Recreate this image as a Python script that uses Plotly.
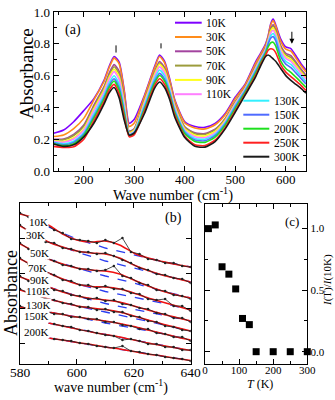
import plotly.graph_objects as go

FONT = "Liberation Serif"
W, H = 335, 400

# ---- panel (a): absorbance spectra -------------------------------------
WAVENUMBER_A = [140, 160, 180, 200, 220, 240, 250, 260, 270, 280, 290, 300, 320, 340,
                350, 360, 370, 380, 400, 420, 440, 460, 480, 500, 520, 540, 550, 560,
                565, 570, 575, 580, 590, 600, 610, 620, 630, 640]

ABS_10K = [0.237, 0.258, 0.310, 0.380, 0.455, 0.570, 0.656, 0.720, 0.685, 0.510, 0.300, 0.325,
           0.475, 0.655, 0.730, 0.690, 0.580, 0.450, 0.310, 0.280, 0.275, 0.300, 0.362, 0.465,
           0.550, 0.685, 0.740, 0.800, 0.850, 0.925, 0.955, 0.920, 0.830, 0.780, 0.770, 0.725,
           0.675, 0.635]
ABS_30K = [0.217, 0.227, 0.267, 0.331, 0.447, 0.563, 0.648, 0.710, 0.674, 0.500, 0.280, 0.302,
           0.468, 0.647, 0.720, 0.680, 0.572, 0.443, 0.302, 0.270, 0.265, 0.291, 0.354, 0.455,
           0.543, 0.675, 0.732, 0.792, 0.845, 0.917, 0.945, 0.911, 0.815, 0.766, 0.754, 0.711,
           0.663, 0.623]
ABS_50K = [0.200, 0.201, 0.230, 0.289, 0.415, 0.531, 0.613, 0.669, 0.627, 0.461, 0.250, 0.268,
           0.447, 0.623, 0.689, 0.650, 0.549, 0.424, 0.278, 0.240, 0.235, 0.263, 0.331, 0.437,
           0.529, 0.657, 0.716, 0.776, 0.833, 0.896, 0.920, 0.888, 0.789, 0.740, 0.726, 0.685,
           0.641, 0.603]
ABS_70K = [0.197, 0.196, 0.223, 0.281, 0.404, 0.521, 0.601, 0.656, 0.611, 0.447, 0.245, 0.263,
           0.441, 0.615, 0.679, 0.641, 0.541, 0.417, 0.274, 0.235, 0.230, 0.259, 0.327, 0.432,
           0.526, 0.652, 0.712, 0.772, 0.828, 0.888, 0.910, 0.879, 0.778, 0.730, 0.714, 0.675,
           0.632, 0.594]
ABS_90K = [0.190, 0.186, 0.209, 0.265, 0.392, 0.509, 0.588, 0.640, 0.593, 0.432, 0.240, 0.257,
           0.435, 0.608, 0.671, 0.632, 0.535, 0.412, 0.266, 0.225, 0.220, 0.249, 0.319, 0.427,
           0.522, 0.647, 0.708, 0.768, 0.824, 0.880, 0.900, 0.869, 0.767, 0.719, 0.702, 0.664,
           0.622, 0.586]
ABS_110K = [0.187, 0.181, 0.201, 0.256, 0.379, 0.497, 0.575, 0.625, 0.575, 0.417, 0.235, 0.251,
            0.424, 0.596, 0.655, 0.617, 0.523, 0.402, 0.258, 0.215, 0.210, 0.240, 0.312, 0.422,
            0.519, 0.642, 0.704, 0.764, 0.816, 0.868, 0.885, 0.856, 0.756, 0.708, 0.690, 0.653,
            0.613, 0.577]
ABS_130K = [0.180, 0.171, 0.187, 0.240, 0.359, 0.477, 0.553, 0.599, 0.546, 0.392, 0.230, 0.246,
            0.411, 0.579, 0.635, 0.598, 0.507, 0.388, 0.250, 0.205, 0.200, 0.231, 0.304, 0.413,
            0.512, 0.633, 0.696, 0.756, 0.807, 0.851, 0.865, 0.837, 0.738, 0.690, 0.670, 0.635,
            0.598, 0.563]
ABS_150K = [0.177, 0.165, 0.180, 0.232, 0.343, 0.462, 0.537, 0.580, 0.523, 0.373, 0.225, 0.240,
            0.397, 0.563, 0.614, 0.578, 0.492, 0.375, 0.242, 0.195, 0.190, 0.222, 0.296, 0.403,
            0.505, 0.623, 0.688, 0.748, 0.797, 0.835, 0.845, 0.819, 0.719, 0.672, 0.650, 0.617,
            0.582, 0.548]
ABS_200K = [0.173, 0.160, 0.172, 0.223, 0.333, 0.452, 0.525, 0.566, 0.507, 0.360, 0.220, 0.234,
            0.388, 0.552, 0.601, 0.565, 0.481, 0.366, 0.234, 0.185, 0.180, 0.213, 0.288, 0.394,
            0.498, 0.614, 0.680, 0.740, 0.780, 0.806, 0.810, 0.787, 0.691, 0.645, 0.620, 0.590,
            0.559, 0.526]
ABS_250K = [0.155, 0.148, 0.152, 0.200, 0.316, 0.435, 0.507, 0.545, 0.483, 0.339, 0.215, 0.229,
            0.374, 0.536, 0.580, 0.545, 0.466, 0.353, 0.218, 0.165, 0.160, 0.194, 0.273, 0.380,
            0.487, 0.600, 0.668, 0.728, 0.759, 0.769, 0.765, 0.745, 0.667, 0.622, 0.594, 0.567,
            0.539, 0.507]
ABS_300K = [0.170, 0.155, 0.165, 0.215, 0.300, 0.420, 0.490, 0.525, 0.460, 0.320, 0.225, 0.240,
            0.360, 0.520, 0.560, 0.525, 0.450, 0.340, 0.210, 0.155, 0.150, 0.185, 0.265, 0.370,
            0.480, 0.590, 0.660, 0.720, 0.730, 0.720, 0.705, 0.690, 0.645, 0.600, 0.570, 0.545,
            0.520, 0.490]

TEMPS_A = ["10K", "30K", "50K", "70K", "90K", "110K", "130K", "150K", "200K", "250K", "300K"]
SPECTRA_A = [ABS_10K, ABS_30K, ABS_50K, ABS_70K, ABS_90K, ABS_110K, ABS_130K, ABS_150K,
             ABS_200K, ABS_250K, ABS_300K]
COLORS_A = ["#7f00ff", "#ff8c1a", "#a3449f", "#9c9c3c", "#ffff1a", "#ff7fff",
            "#33f0ff", "#4f6bff", "#1ee01e", "#ff2020", "#1a1a1a"]

# ---- panel (b): 600 cm-1 region, offset spectra ------------------------
DATA_X_B = [580, 583, 586, 589, 592, 595, 598, 601, 604, 607, 610, 613, 616, 619, 622, 625,
            628, 631, 634, 637, 640]
FIT_X_B = [580, 585, 590, 595, 600, 605, 610, 615, 620, 625, 630, 635, 640]
BASE_X_B = [590, 600, 610, 620, 630, 640]
TEMPS_B = ["10K", "30K", "50K", "70K", "90K", "110K", "130K", "150K", "200K"]

DATA_B = [
    [151, 147, 145, 140, 134, 131, 125, 124, 123, 121, 124, 121, 126, 112, 110, 105, 104, 101, 101, 98, 97],
    [139, 133, 129, 122, 121, 116, 115, 112, 112, 110, 111, 108, 104, 101, 96, 94, 90, 89, 86, 85, 81],
    [121, 115, 112, 106, 103, 99, 98, 95, 95, 93, 94, 98, 88, 86, 81, 79, 74, 73, 69, 68, 65],
    [106, 100, 97, 92, 89, 84, 83, 79, 79, 76, 78, 75, 75, 71, 70, 65, 64, 65, 58, 58, 53],
    [88, 83, 81, 79, 74, 73, 69, 68, 65, 66, 63, 64, 60, 59, 56, 55, 51, 50, 46, 46, 42],
    [75, 71, 69, 65, 64, 61, 60, 57, 57, 54, 55, 52, 52, 48, 47, 43, 42, 38, 37, 34, 33],
    [58, 55, 54, 53, 50, 50, 47, 47, 45, 45, 42, 42, 39, 38, 35, 35, 31, 30, 27, 27, 23],
    [None, None, None, None, 40, 38, 37, 34, 33, 31, 29, 28, 24, 25, 23, 20, 20, 17, 17, 14, 14],
    [None, None, None, None, 25, 24, 23, 21, 20, 18, 17, 16, 18, 13, 12, 10, 9, 7, 6, 5, 3],
]
FIT_B = [
    [150, 146, 139, 130, 124, 122, 123, 119, 111, 106, 102.5, 99.5, 97],
    [138, 130, 122, 117, 113, 111, 110, 106, 99, 93.5, 89, 85.5, 82],
    [120, 112.5, 105, 100, 96, 94, 93, 90, 84, 78, 73, 69, 66],
    [105, 98, 91, 85, 80, 77.5, 77, 75, 71, 66, 62, 58, 54],
    [87, 82, 77, 72, 68, 65.5, 64, 62, 58, 54, 50, 46.5, 43],
    [74, 69.5, 65, 61.5, 58, 56, 54.5, 52, 48, 44, 40, 36.5, 33],
    [57, 54.5, 52, 49.5, 47, 45, 43, 40.5, 37.5, 34, 30.5, 27, 24],
    [None, None, 41, 38, 35, 32, 29.5, 27, 24, 21, 18.5, 16, 13.5],
    [None, None, 26, 24, 21.5, 19.5, 17, 15, 12.5, 10, 8, 5.5, 3.5],
]
BASE_B = [
    [137, 125, 116, 109, 102.5, 97],
    [122, 112, 103, 96, 88.5, 82],
    [105, 96, 88, 81, 73, 66],
    [91, 80, 72.5, 67, 61, 54],
    [77, 68, 60.5, 55, 49, 43],
    [65, 58, 52, 46, 39.5, 33],
    [52, 47, 41, 36, 30.5, 24],
    [41, 35, 29.5, 24, 18.5, 13.5],
    [26, 21.5, 17, 12.5, 8, 3.5],
]

# ---- panel (c): normalised intensity -----------------------------------
T_C = [10, 30, 50, 70, 90, 110, 130, 150, 200, 250, 300]
INTENSITY_C = [1.0, 1.03, 0.69, 0.63, 0.51, 0.27, 0.22, 0.0, 0.0, 0.0, 0.0]


def px(x):
    return x / W


def py(y):
    return 1 - y / H


fig = go.Figure()

for name, values, color in zip(TEMPS_A, SPECTRA_A, COLORS_A):
    fig.add_trace(go.Scatter(
        x=WAVENUMBER_A, y=values, mode="lines", name=name,
        line=dict(color=color, width=1.6, shape="spline", smoothing=0.6),
        xaxis="x", yaxis="y", showlegend=False,
    ))

for data, fit, base in zip(DATA_B, FIT_B, BASE_B):
    fig.add_trace(go.Scatter(
        x=BASE_X_B, y=base, mode="lines",
        line=dict(color="#2a3df0", width=1.3, dash="dash"),
        xaxis="x2", yaxis="y2", showlegend=False,
    ))
    fig.add_trace(go.Scatter(
        x=FIT_X_B, y=fit, mode="lines",
        line=dict(color="#f01010", width=1.5, shape="spline", smoothing=0.8),
        xaxis="x2", yaxis="y2", showlegend=False,
    ))
    fig.add_trace(go.Scatter(
        x=DATA_X_B, y=data, mode="lines+markers",
        line=dict(color="#222222", width=0.8),
        marker=dict(size=2.5, color="#222222"),
        xaxis="x2", yaxis="y2", showlegend=False,
    ))

fig.add_trace(go.Scatter(
    x=T_C, y=INTENSITY_C, mode="markers",
    marker=dict(symbol="square", size=7, color="black"),
    xaxis="x3", yaxis="y3", showlegend=False, cliponaxis=False,
))


def axis(size, **kw):
    base = dict(
        showline=True, linecolor="black", linewidth=1, mirror="ticks",
        ticks="inside", ticklen=5, tickwidth=1, tickcolor="black",
        showgrid=False, zeroline=False, automargin=False,
        tickfont=dict(family=FONT, size=size, color="black"),
    )
    base.update(kw)
    return base


def minor(step):
    return dict(ticks="inside", ticklen=3, dtick=step, tickcolor="black", showgrid=False)


fig.update_layout(
    template="none",
    width=W, height=H, margin=dict(l=0, r=0, t=0, b=0, pad=0),
    paper_bgcolor="white", plot_bgcolor="white",
    font=dict(family=FONT, color="black"),
    xaxis=axis(13, domain=[px(53.5), px(306)], range=[140, 640], tick0=0, dtick=100,
               minor=minor(50), anchor="y", ticklabelstandoff=-4),
    yaxis=axis(13, domain=[py(171), py(12)], range=[0, 1], dtick=0.2, tickformat=".1f",
               minor=minor(0.1), anchor="x"),
    xaxis2=axis(13.5, domain=[px(20), px(190.7)], range=[580, 640], tick0=0, dtick=20,
                minor=minor(10), anchor="y2", ticklabelstandoff=-4),
    yaxis2=axis(12, domain=[py(364), py(203)], range=[0, 161], tick0=21, dtick=35,
                showticklabels=False, anchor="x2"),
    xaxis3=axis(11, domain=[px(205), px(307.3)], range=[0, 300], tick0=0, dtick=100,
                minor=minor(50), anchor="y3", ticklabelstandoff=-4),
    yaxis3=axis(11, domain=[py(364), py(204)], range=[-0.1, 1.2], tick0=0, dtick=0.5,
                tickformat=".1f", minor=minor(0.25), side="right", anchor="x3"),
)

ann = []
shapes = []


def text(x, y, s, size, **kw):
    d = dict(x=px(x), y=py(y), xref="paper", yref="paper", text=s, showarrow=False,
             xanchor="center", yanchor="middle",
             font=dict(family=FONT, size=size, color="black"))
    d.update(kw)
    ann.append(d)


# legend of panel (a), split in two columns
for i, (name, color) in enumerate(zip(TEMPS_A, COLORS_A)):
    if i < 6:
        x0, x1, y = 175, 201.7, 22.7 + 14.3 * i
    else:
        x0, x1, y = 243.3, 269.3, 100.7 + 14.0 * (i - 6)
    shapes.append(dict(type="line", xref="paper", yref="paper", x0=px(x0), x1=px(x1),
                       y0=py(y), y1=py(y), line=dict(color=color, width=2)))
    text(x1 + 2.5, y, name, 11.5, xanchor="left")

# peak markers and arrow in panel (a)
for xm, y0, y1 in [(263.8, 0.745, 0.79), (352.9, 0.771, 0.803)]:
    shapes.append(dict(type="line", xref="x", yref="y", x0=xm, x1=xm, y0=y0, y1=y1,
                       line=dict(color="black", width=1)))
ann.append(dict(x=612, y=0.80, ax=612, ay=0.885, xref="x", yref="y", axref="x", ayref="y",
                text="", showarrow=True, arrowhead=2, arrowsize=1, arrowwidth=1,
                arrowcolor="black"))

# temperature labels in panel (b)
label_pos_b = [(582.9, 142.3), (581.8, 129), (583.2, 111.3), (582.3, 95.7), (583.3, 84),
               (581.8, 73), (581.8, 59), (581.2, 48.5), (581.2, 32.3)]
for name, (lx, ly) in zip(TEMPS_B, label_pos_b):
    ann.append(dict(x=lx, y=ly, xref="x2", yref="y2", text=name, showarrow=False,
                    xanchor="left", yanchor="middle", bgcolor="white", borderpad=0,
                    font=dict(family=FONT, size=11, color="black")))

text(72.5, 30, "(a)", 14)
text(173.5, 218, "(b)", 14)
text(292, 221, "(c)", 13)
text(26, 74, "Absorbance", 19, textangle=-90)
text(11, 293, "Absorbance", 18, textangle=-90)
text(173, 194, "Wave number (cm<sup>-1</sup>)", 14.5)
text(111, 386, "wave number (cm<sup>-1</sup>)", 14)
text(260, 384, "<i>T</i> (K)", 12)
text(327, 280, "<i>I</i>(T)/<i>I</i>(10K)", 11, textangle=-90)

fig.update_layout(annotations=ann, shapes=shapes)
# the page body has a default 8px margin; drop it so the figure sits at the corner
fig.write_html("out.html", config={"displayModeBar": False},
               post_script="document.body.style.margin = '0';")
